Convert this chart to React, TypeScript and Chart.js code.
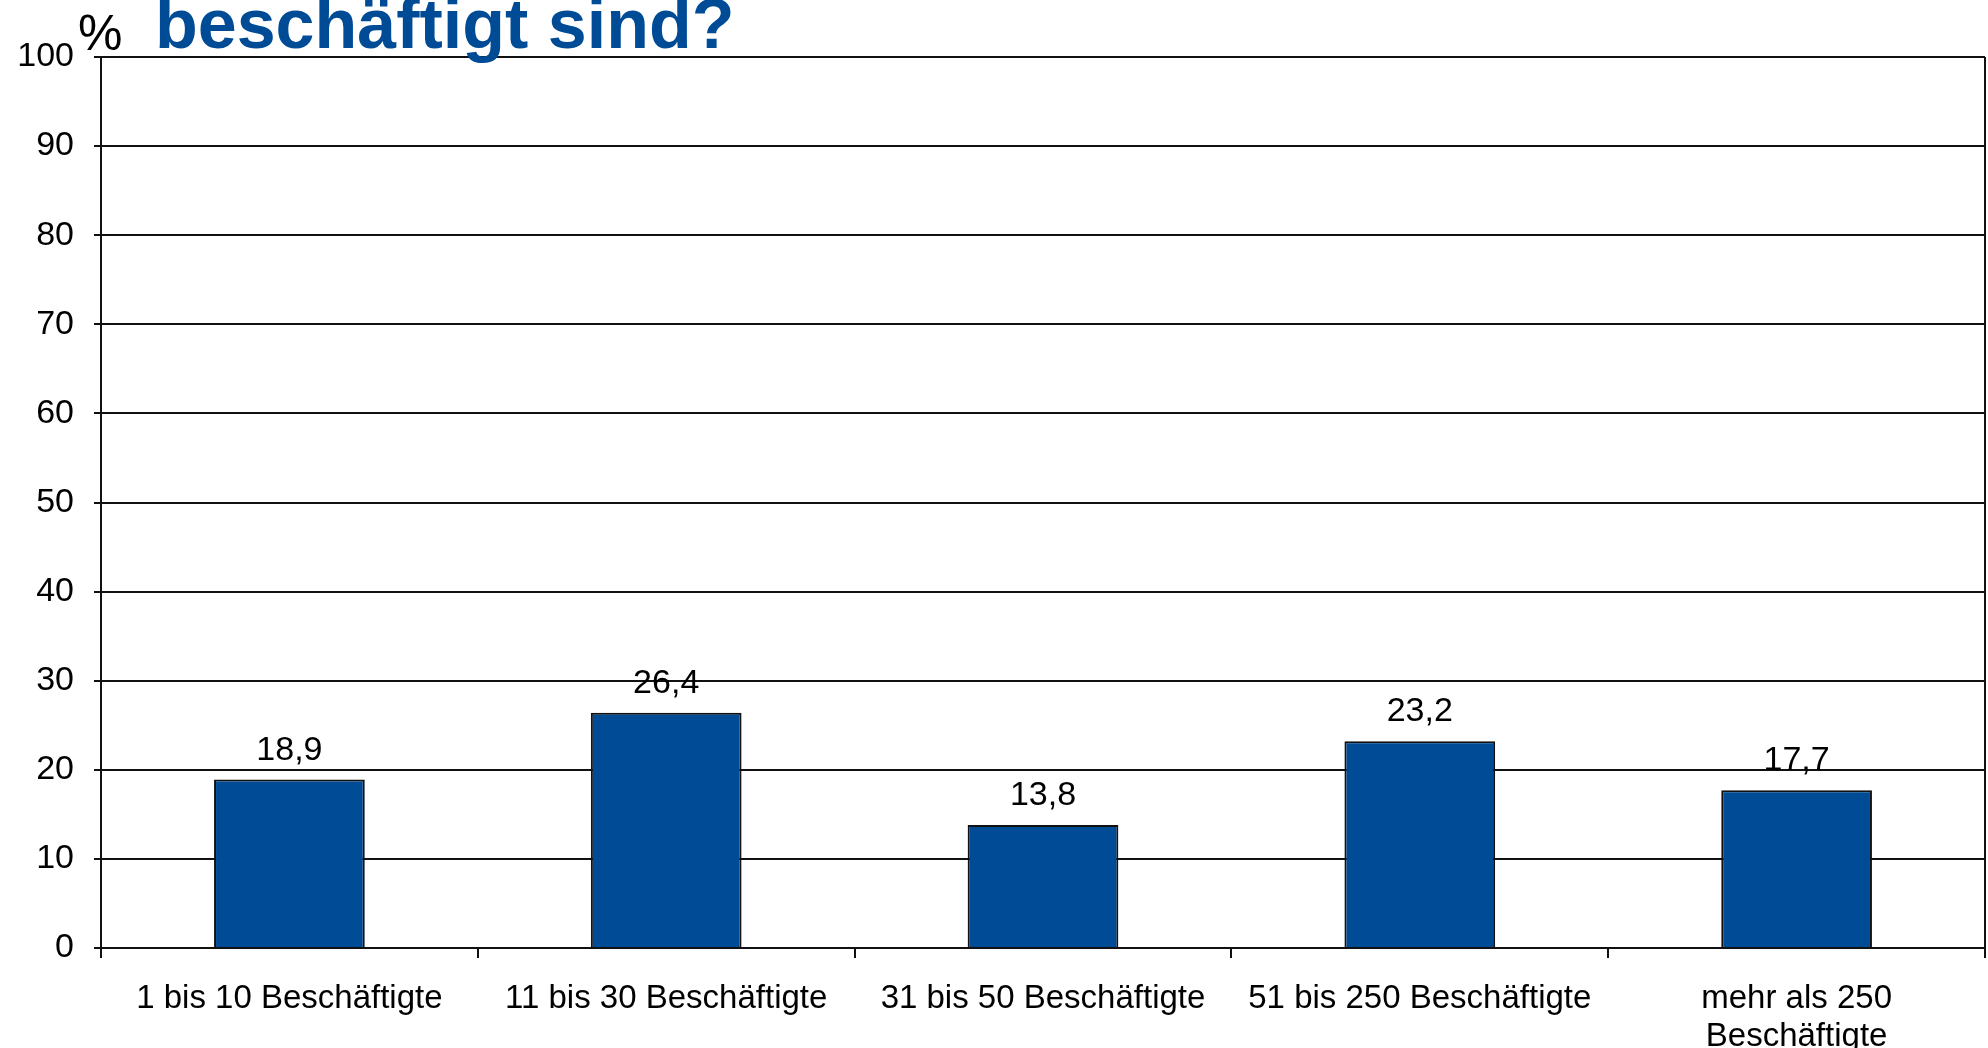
import React, { useEffect, useRef } from "react";
import { Chart, registerables } from "chart.js";

Chart.register(...registerables);

const categories: (string | string[])[] = [
  "1 bis 10 Beschäftigte",
  "11 bis 30 Beschäftigte",
  "31 bis 50 Beschäftigte",
  "51 bis 250 Beschäftigte",
  ["mehr als 250", "Beschäftigte"],
];
const values: number[] = [18.9, 26.4, 13.8, 23.2, 17.7];
const valueLabels: string[] = ["18,9", "26,4", "13,8", "23,2", "17,7"];
const titleText = "beschäftigt sind?";
const unitText = "%";

const FONT = "'Liberation Sans', Arial, sans-serif";
const BLUE = "#004B96";
const LINE = "#111";

export default function App() {
  const ref = useRef<HTMLCanvasElement | null>(null);
  useEffect(() => {
    if (!ref.current) return;
    const overlay = {
      id: "overlay",
      afterDatasetsDraw(chart: any) {
        const ctx = chart.ctx;
        const meta = chart.getDatasetMeta(0);
        ctx.save();
        ctx.font = `34px ${FONT}`;
        ctx.fillStyle = "#000";
        ctx.textAlign = "center";
        ctx.textBaseline = "alphabetic";
        meta.data.forEach((bar: any, i: number) => {
          ctx.fillText(valueLabels[i], bar.x, bar.y - 20);
        });
        const a = chart.chartArea;
        ctx.strokeStyle = LINE;
        ctx.lineWidth = 2;
        ctx.beginPath();
        ctx.moveTo(a.right, a.top);
        ctx.lineTo(a.right, a.bottom + 10);
        ctx.stroke();
        ctx.restore();
      },
      afterDraw(chart: any) {
        const ctx = chart.ctx;
        ctx.save();
        ctx.textAlign = "left";
        ctx.textBaseline = "alphabetic";
        ctx.fillStyle = "#000";
        ctx.font = `50px ${FONT}`;
        ctx.fillText(unitText, 78, 50);
        ctx.fillStyle = BLUE;
        ctx.font = `bold 70px ${FONT}`;
        ctx.fillText(titleText, 155, 48);
        ctx.restore();
      },
    };
    const chart = new Chart(ref.current, {
      type: "bar",
      data: {
        labels: categories,
        datasets: [
          {
            data: values,
            backgroundColor: BLUE,
            borderColor: "#111",
            borderWidth: 2,
            barPercentage: 0.4,
            categoryPercentage: 1,
          },
        ],
      },
      options: {
        responsive: false,
        animation: false,
        layout: { padding: { top: 57, right: 3, left: 0, bottom: 0 } },
        plugins: {
          legend: { display: false },
          tooltip: { enabled: false },
          title: { display: false },
        },
        scales: {
          x: {
            afterFit: (s: any) => {
              s.height = 100;
            },
            grid: {
              offset: true,
              drawOnChartArea: false,
              drawTicks: true,
              tickLength: 10,
              color: LINE,
              lineWidth: 2,
            },
            border: { display: true, color: LINE, width: 2 },
            ticks: {
              color: "#000",
              font: { family: FONT, size: 33, lineHeight: 1.15 },
              padding: 22,
              maxRotation: 0,
              autoSkip: false,
            },
          },
          y: {
            min: 0,
            max: 100,
            afterFit: (s: any) => {
              s.width = 101;
            },
            grid: {
              color: LINE,
              lineWidth: 2,
              drawTicks: true,
              tickLength: 7,
            },
            border: { display: true, color: LINE, width: 2 },
            ticks: {
              stepSize: 10,
              color: "#000",
              font: { family: FONT, size: 34 },
              padding: 20,
            },
          },
        },
      },
      plugins: [overlay],
    });
    return () => chart.destroy();
  }, []);
  return (
    <div style={{ position: "fixed", left: 0, top: 0, width: 1988, height: 1048, background: "#fff" }}>
      <canvas ref={ref} width={1988} height={1048} style={{ width: 1988, height: 1048, display: "block" }} />
    </div>
  );
}
